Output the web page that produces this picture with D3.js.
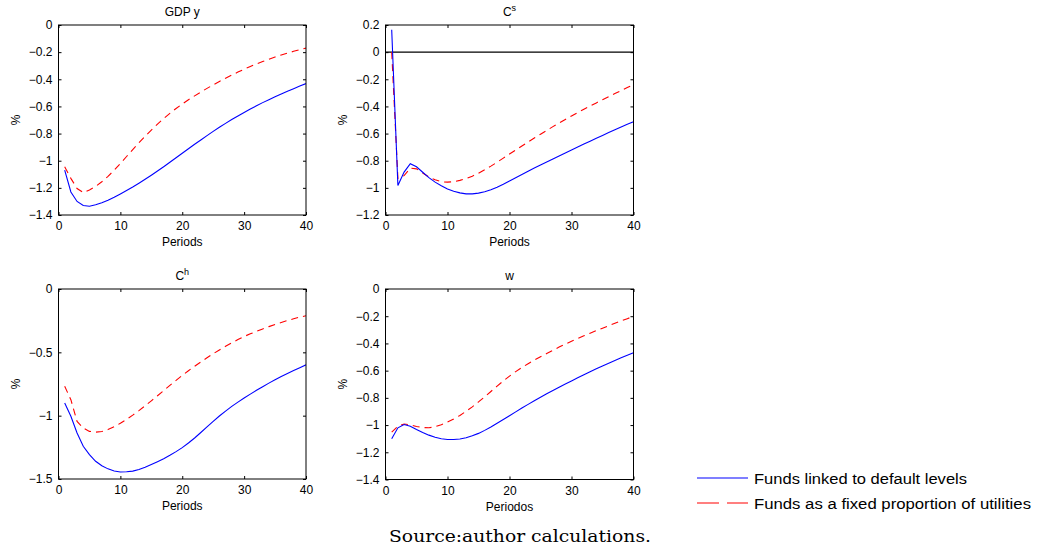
<!DOCTYPE html>
<html>
<head>
<meta charset="utf-8">
<script src="https://cdn.jsdelivr.net/npm/d3@7"></script>
<style>
  html, body { margin: 0; padding: 0; background: #fff; }
  svg { display: block; }
  text { font-family: "Liberation Sans", Arial, Helvetica, sans-serif; fill: #000; }
</style>
</head>
<body>
<svg id="chart" width="1040" height="552"></svg>
<script>
// ---------------- DATA ----------------
const periods = d3.range(1, 41);

const seriesNames = ["Funds linked to default levels", "Funds as a fixed proportion of utilities"];

const gdpLinked = [-1.07,-1.23,-1.30,-1.33,-1.335,-1.325,-1.31,-1.291,-1.269,-1.245,
  -1.22,-1.194,-1.166,-1.137,-1.107,-1.076,-1.044,-1.011,-0.978,-0.945,
  -0.912,-0.879,-0.847,-0.815,-0.784,-0.754,-0.725,-0.697,-0.67,-0.644,
  -0.619,-0.595,-0.572,-0.55,-0.529,-0.509,-0.489,-0.469,-0.45,-0.432];
const gdpFixed = [-1.045,-1.13,-1.205,-1.235,-1.215,-1.19,-1.155,-1.115,-1.07,-1.02,
  -0.969,-0.918,-0.868,-0.82,-0.774,-0.73,-0.689,-0.651,-0.615,-0.582,
  -0.551,-0.522,-0.494,-0.467,-0.441,-0.416,-0.392,-0.369,-0.347,-0.326,
  -0.306,-0.287,-0.269,-0.252,-0.236,-0.221,-0.207,-0.194,-0.182,-0.17];

const csLinked = [0.165,-0.983,-0.884,-0.822,-0.845,-0.885,-0.925,-0.958,-0.985,-1.008,
  -1.025,-1.037,-1.044,-1.044,-1.039,-1.029,-1.014,-0.995,-0.973,-0.949,
  -0.925,-0.901,-0.877,-0.854,-0.831,-0.809,-0.787,-0.765,-0.743,-0.721,
  -0.699,-0.677,-0.656,-0.635,-0.614,-0.593,-0.572,-0.552,-0.532,-0.512];
const csFixed = [0.0,-0.93,-0.91,-0.855,-0.86,-0.89,-0.92,-0.94,-0.955,-0.958,
  -0.955,-0.945,-0.932,-0.914,-0.892,-0.867,-0.84,-0.811,-0.781,-0.751,
  -0.721,-0.691,-0.662,-0.633,-0.605,-0.577,-0.549,-0.522,-0.496,-0.47,
  -0.445,-0.421,-0.397,-0.374,-0.351,-0.328,-0.305,-0.283,-0.261,-0.24];

const chLinked = [-0.90,-1.005,-1.137,-1.242,-1.308,-1.36,-1.395,-1.42,-1.437,-1.445,
  -1.443,-1.438,-1.425,-1.407,-1.385,-1.363,-1.34,-1.313,-1.284,-1.252,
  -1.216,-1.176,-1.133,-1.089,-1.045,-1.003,-0.964,-0.927,-0.893,-0.861,
  -0.83,-0.8,-0.771,-0.743,-0.716,-0.691,-0.667,-0.644,-0.621,-0.599];
const chFixed = [-0.768,-0.874,-1.045,-1.097,-1.124,-1.13,-1.125,-1.11,-1.088,-1.06,
  -1.03,-0.996,-0.96,-0.922,-0.883,-0.843,-0.802,-0.761,-0.721,-0.682,
  -0.645,-0.61,-0.576,-0.543,-0.511,-0.481,-0.452,-0.425,-0.399,-0.375,
  -0.354,-0.334,-0.315,-0.297,-0.28,-0.264,-0.249,-0.235,-0.222,-0.211];

const wLinked = [-1.10,-1.02,-0.996,-1.008,-1.033,-1.055,-1.074,-1.09,-1.1,-1.106,
  -1.106,-1.102,-1.093,-1.079,-1.061,-1.039,-1.014,-0.987,-0.959,-0.931,
  -0.903,-0.875,-0.848,-0.821,-0.795,-0.77,-0.746,-0.722,-0.699,-0.676,
  -0.653,-0.63,-0.608,-0.586,-0.565,-0.545,-0.525,-0.506,-0.487,-0.469];
const wFixed = [-1.052,-1.008,-0.992,-0.998,-1.01,-1.018,-1.02,-1.012,-0.997,-0.977,
  -0.955,-0.929,-0.899,-0.866,-0.83,-0.792,-0.753,-0.714,-0.676,-0.64,
  -0.607,-0.577,-0.549,-0.523,-0.498,-0.474,-0.45,-0.427,-0.405,-0.384,
  -0.364,-0.344,-0.325,-0.306,-0.288,-0.27,-0.252,-0.235,-0.218,-0.201];

const xTicks = [0, 10, 20, 30, 40];
const yTicksGdp = [0, -0.2, -0.4, -0.6, -0.8, -1, -1.2, -1.4];
const yTicksCs = [0.2, 0, -0.2, -0.4, -0.6, -0.8, -1, -1.2];
const yTicksCh = [0, -0.5, -1, -1.5];
const yTicksW = [0, -0.2, -0.4, -0.6, -0.8, -1, -1.2, -1.4];

const caption = "Source:author calculations.";

// ---------------- LAYOUT ----------------
const panels = [
  { title: "GDP y", sup: null, xLabel: "Periods", yLabel: "%", x0: 58.5, x1: 306, y0: 25, y1: 215,
    domain: [-1.4, 0], ticks: yTicksGdp, a: gdpLinked, b: gdpFixed, zeroLine: false },
  { title: "C", sup: "s", xLabel: "Periods", yLabel: "%", x0: 385.5, x1: 633.5, y0: 25, y1: 215,
    domain: [-1.2, 0.2], ticks: yTicksCs, a: csLinked, b: csFixed, zeroLine: true },
  { title: "C", sup: "h", xLabel: "Periods", yLabel: "%", x0: 58.5, x1: 306, y0: 289, y1: 479,
    domain: [-1.5, 0], ticks: yTicksCh, a: chLinked, b: chFixed, zeroLine: false },
  { title: "w", sup: null, xLabel: "Periodos", yLabel: "%", x0: 385.5, x1: 633.5, y0: 289, y1: 479.5,
    domain: [-1.4, 0], ticks: yTicksW, a: wLinked, b: wFixed, zeroLine: false }
];

const blue = "#0000ff", red = "#ff0000";
const fmt = d => (d < 0 ? "\u2212" : "") + String(Math.abs(d));

const svg = d3.select("#chart");

panels.forEach(p => {
  const x = d3.scaleLinear().domain([0, 40]).range([p.x0, p.x1]);
  const y = d3.scaleLinear().domain(p.domain).range([p.y1, p.y0]);
  const g = svg.append("g");

  const bottom = g.append("g").attr("transform", `translate(0,${p.y1})`)
    .call(d3.axisBottom(x).tickValues(xTicks).tickSize(-3).tickPadding(6).tickFormat(fmt));
  const left = g.append("g").attr("transform", `translate(${p.x0},0)`)
    .call(d3.axisLeft(y).tickValues(p.ticks).tickSize(-3).tickPadding(6).tickFormat(fmt));
  const top = g.append("g").attr("transform", `translate(0,${p.y0})`)
    .call(d3.axisTop(x).tickValues(xTicks).tickSize(-3).tickFormat(""));
  const right = g.append("g").attr("transform", `translate(${p.x1},0)`)
    .call(d3.axisRight(y).tickValues(p.ticks).tickSize(-3).tickFormat(""));
  [bottom, left, top, right].forEach(ax => {
    ax.select(".domain").remove();
    ax.selectAll(".tick line").attr("stroke", "#000").attr("stroke-width", 1);
    ax.selectAll("text").attr("font-size", 12).attr("fill", "#000")
      .style("font-family", '"Liberation Sans", Arial, sans-serif');
  });
  bottom.selectAll("text").attr("dy", "0.78em");

  if (p.zeroLine) {
    g.append("line").attr("x1", p.x0).attr("x2", p.x1)
      .attr("y1", y(0)).attr("y2", y(0)).attr("stroke", "#000").attr("stroke-width", 1.2);
  }

  const clipId = "clip" + Math.round(p.x0) + "_" + Math.round(p.y0);
  svg.append("clipPath").attr("id", clipId).append("rect")
    .attr("x", p.x0).attr("y", p.y0).attr("width", p.x1 - p.x0).attr("height", p.y1 - p.y0);

  const line = d3.line().x((d, i) => x(periods[i])).y(d => y(d));
  g.append("path").datum(p.b).attr("clip-path", `url(#${clipId})`)
    .attr("d", line).attr("fill", "none").attr("stroke", red)
    .attr("stroke-width", 1.1).attr("stroke-dasharray", "7,5");
  g.append("path").datum(p.a).attr("clip-path", `url(#${clipId})`)
    .attr("d", line).attr("fill", "none").attr("stroke", blue)
    .attr("stroke-width", 1.1);

  g.append("rect").attr("x", p.x0).attr("y", p.y0)
    .attr("width", p.x1 - p.x0).attr("height", p.y1 - p.y0)
    .attr("fill", "none").attr("stroke", "#000").attr("stroke-width", 1);

  const t = g.append("text").attr("x", (p.x0 + p.x1) / 2).attr("y", p.y0 - 9)
    .attr("text-anchor", "middle").attr("font-size", 12).text(p.title);
  if (p.sup) {
    t.append("tspan").attr("font-size", 9).attr("dy", -5).text(p.sup);
  }

  g.append("text").attr("x", (p.x0 + p.x1) / 2).attr("y", p.y1 + 31)
    .attr("text-anchor", "middle").attr("font-size", 12).text(p.xLabel);

  const yl = p.x0 - 43, yc = (p.y0 + p.y1) / 2;
  g.append("text").attr("transform", `translate(${yl + 4},${yc}) rotate(-90)`)
    .attr("text-anchor", "middle").attr("font-size", 12).text(p.yLabel);
});

// ---------------- LEGEND ----------------
const legend = svg.append("g");
const legendItems = [
  { name: seriesNames[0], color: blue, dash: null, y: 478, w: 213 },
  { name: seriesNames[1], color: red, dash: "22,8", y: 503, w: 277 }
];
legendItems.forEach(it => {
  legend.append("line").attr("x1", 697).attr("x2", 748).attr("y1", it.y).attr("y2", it.y)
    .attr("stroke", it.color).attr("stroke-width", 1.2)
    .attr("stroke-dasharray", it.dash);
  legend.append("text").attr("x", 754).attr("y", it.y + 6).attr("font-size", 15.5)
    .attr("textLength", it.w).attr("lengthAdjust", "spacingAndGlyphs")
    .text(it.name);
});

// ---------------- CAPTION ----------------
svg.append("text").attr("x", 520).attr("y", 542).attr("text-anchor", "middle")
  .style("font-family", '"DejaVu Serif", "Liberation Serif", serif')
  .attr("font-size", 17).attr("textLength", 262).attr("lengthAdjust", "spacingAndGlyphs")
  .text(caption);
</script>
</body>
</html>
